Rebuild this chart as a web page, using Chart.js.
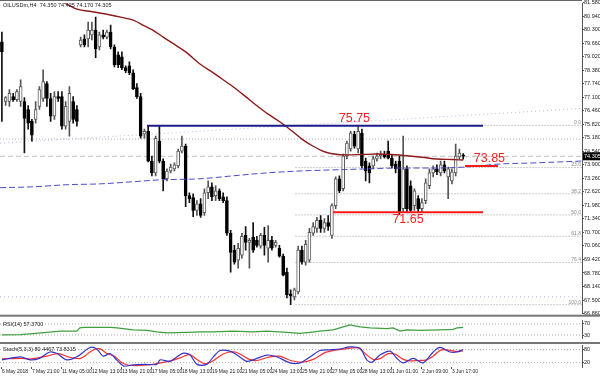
<!DOCTYPE html>
<html><head><meta charset="utf-8">
<script src="https://cdn.jsdelivr.net/npm/chart.js@4.4.1/dist/chart.umd.min.js"></script>
<style>
html,body{margin:0;padding:0;background:#fff;}
#wrap{position:relative;width:600px;height:376px;overflow:hidden;background:#fff;}
canvas{position:absolute;left:0;}
</style></head><body>
<div id="wrap">
<canvas id="cMain" width="600" height="317" style="top:0;width:600px;height:317px"></canvas>
<canvas id="cRsi" width="600" height="25" style="top:317px;width:600px;height:25px"></canvas>
<canvas id="cSto" width="600" height="34" style="top:342px;width:600px;height:34px"></canvas>
</div>
<script>
// ---------------- data ----------------
const symbolTitle = "OILUSDm,H4  74.350 74.425 74.170 74.305";
const opens  = [79.72,76.90,76.90,77.13,76.99,76.90,76.90,76.52,75.96,76.05,76.67,77.04,77.75,77.04,76.20,77.13,77.13,75.73,75.96,76.90,76.52,79.58,79.86,79.86,80.05,80.28,79.48,80.05,79.95,80.19,79.48,79.11,79.01,78.50,78.59,78.26,77.56,77.13,75.35,75.49,74.08,73.52,75.02,74.08,73.24,73.61,73.71,73.85,74.55,74.79,72.44,72.35,71.74,72.06,71.64,72.58,72.86,72.44,72.67,72.39,72.21,70.66,69.86,69.39,69.62,70.56,70.23,70.47,70.33,70.05,70.56,69.95,70.33,70.09,69.95,69.58,68.82,67.79,67.65,67.89,69.86,69.29,69.39,70.66,70.89,71.27,70.89,71.17,70.56,71.97,73.24,72.77,74.32,74.65,75.35,74.65,75.40,74.08,73.85,73.85,74.18,74.32,74.37,74.55,74.22,73.94,74.08,71.83,73.71,72.91,71.97,72.30,71.83,72.21,72.91,73.52,73.71,73.52,73.90,73.33,73.14,73.52,74.27,74.35];
const highs  = [80.19,77.13,77.46,77.28,77.46,77.93,77.09,76.71,76.05,76.90,77.60,78.40,77.84,77.28,77.37,77.37,77.37,76.90,77.60,77.13,76.71,79.95,80.05,80.66,80.66,80.89,80.19,80.28,80.28,80.52,79.58,79.25,79.25,78.59,78.78,78.40,77.75,77.28,75.59,75.73,74.32,75.26,75.73,74.18,73.71,73.94,73.99,74.65,75.26,74.88,72.58,72.53,72.21,72.30,72.77,73.14,73.05,72.91,72.77,72.58,72.39,70.80,70.09,70.19,70.66,70.98,70.42,71.17,70.52,70.66,70.94,71.03,70.52,70.33,70.09,69.67,69.01,67.98,68.07,70.05,70.05,70.33,70.89,71.17,71.41,71.50,71.36,71.50,72.06,73.33,73.38,74.41,75.02,75.49,75.49,75.77,75.59,74.22,73.99,74.32,74.46,74.55,74.55,75.02,74.37,74.08,74.32,75.26,73.85,73.14,72.77,72.44,72.30,73.24,73.71,73.85,73.90,74.08,74.08,73.80,73.71,74.88,74.65,74.43];
const lows   = [75.96,76.71,76.67,76.90,76.90,76.67,74.46,75.59,75.02,75.87,76.52,76.90,76.67,75.96,76.05,76.90,75.59,75.59,75.26,75.87,75.73,79.48,79.48,79.48,79.81,78.97,79.34,79.86,79.86,79.39,78.54,78.50,78.40,78.26,78.17,77.46,77.04,75.16,75.16,74.04,73.38,73.38,73.99,72.67,73.14,73.52,73.61,73.75,74.46,71.92,72.11,71.45,71.50,71.41,71.50,72.30,72.21,72.21,72.21,72.11,70.56,68.82,69.20,69.01,69.48,69.86,69.01,69.76,70.00,69.95,69.62,69.29,69.86,70.00,69.53,68.64,67.60,67.28,67.51,67.79,69.20,69.15,69.29,70.56,70.70,70.70,70.70,70.80,70.42,71.83,72.58,72.67,74.18,74.55,74.69,74.46,73.75,73.14,73.05,73.71,74.08,74.18,74.22,74.18,73.75,73.52,71.55,71.64,71.64,71.64,71.74,71.64,71.64,72.06,72.77,73.33,73.43,73.38,73.52,72.30,73.00,73.38,74.18,74.17];
const closes = [79.25,77.09,77.28,76.99,77.37,77.60,76.10,75.87,75.30,76.52,77.46,77.84,77.04,76.20,77.13,77.04,75.73,76.67,77.28,76.05,75.96,79.81,79.58,80.28,80.28,79.39,80.05,79.95,80.19,79.48,78.64,78.64,78.50,78.36,78.26,77.51,77.13,75.26,75.49,74.08,73.52,75.16,74.08,73.24,73.61,73.80,73.90,74.55,74.79,72.44,72.30,71.74,72.06,71.50,72.58,72.86,72.39,72.67,72.30,72.21,70.66,69.76,69.29,69.95,70.52,70.23,70.33,69.86,70.09,70.56,70.09,70.33,69.95,70.23,69.58,68.68,67.75,67.70,67.98,69.86,69.29,70.14,70.70,70.98,71.27,70.89,71.17,70.98,71.97,73.24,72.67,74.32,74.93,75.40,74.79,75.49,73.85,73.61,73.52,74.18,74.32,74.41,74.27,74.22,73.85,73.71,71.64,73.71,71.83,71.74,72.67,71.83,72.11,73.05,73.52,73.71,73.57,73.90,73.61,73.71,73.57,74.32,74.46,74.31];

// moving average (dark red) read at sample bars
const maIdx = [14,18,20,24,28,32,35,38,40,43,46,49,53,56,59,62,65,68,71,74,77,80,83,86,89,92,96,100,104,108,112,116,120,123];
const maVal = [81.80,81.45,81.27,81.15,81.03,80.88,80.75,80.48,80.30,79.95,79.60,79.25,78.65,78.30,77.93,77.55,77.13,76.70,76.30,75.95,75.55,75.12,74.78,74.52,74.40,74.37,74.39,74.41,74.39,74.33,74.26,74.18,74.15,74.13];
// long dashed blue average
const trendIdx = [-0.5,8.3,17.4,26.2,35,42.2,52.8,61.6,70.7,79.5,88.3,97.4,106,115,124,132.8,141.6,154.7];
const trendVal = [72.82,72.86,72.96,73.00,73.10,73.19,73.24,73.38,73.52,73.61,73.66,73.71,73.75,73.75,73.80,73.94,73.99,74.08];
// marked levels
const markLevels = [75.75, 71.65, 73.85];
const markText   = ["75.75", "71.65", "73.85"];
const markFrom   = [38.7, 88.3, 123.5];
const markTo     = [128.3, 128.3, 132.3];
// fibonacci retracement
const fibLevels = [75.77, 73.77, 72.53, 71.53, 70.52, 69.28, 67.28];
const fibLabels = ["0.0", "23.6", "38.2", "50.0", "61.8", "76.4", "100.0"];
const fibFrom = 78.3;
const bidPrice = 74.305;
const grayLevel = 75.12;
const lavUpper = [74.93, 76.57];
const lavLower = 67.65;
// price axis labels
const priceTicks = [81.58,80.94,80.30,79.66,79.02,78.38,77.74,77.10,76.46,75.82,75.18,74.54,73.90,73.26,72.62,71.98,71.34,70.70,70.06,69.42,68.78,68.14,67.50,66.86];
// RSI(14)
const rsiIdx = [0,5,8.3,12,15.5,20,20.8,22,26,29,30.7,35,38.7,41.3,44,49.3,53,56.4,61.6,67,70.7,76,79.5,82.2,84.8,88.3,92.8,95.5,98.2,102.7,104.3,106.2,108,111.5,116.8,120.3,121.4,123];
const rsiVal = [30.9,31.5,35.3,39.8,44.2,44.2,55.8,57.6,57.6,57.6,55.8,48.7,46.9,41.5,38.0,39.8,41.5,41.5,44.2,41.5,44.2,39.8,36.0,39.8,44.2,48.7,66.4,59.3,55.8,53.1,55.8,44.2,48.7,46.9,48.7,50.4,55.8,57.37];
const rsiLevels = [70, 30];
// Stochastic(5,3,3)
const stIdx  = [0,5,7.5,10,12.8,14.7,17.3,20,23.5,25.3,27,28.8,30.6,32.5,35,38,41.3,42.2,44.8,46.7,48.4,50.2,52,54.6,56.4,58.2,60.8,62.7,65.3,67,70.7,73.3,76.8,79.5,82.2,84.8,87.5,90.2,92.8,95.5,97.3,98.7,100.8,103.5,105.3,107,109.7,112.3,115,116.8,119.5,121.4,123];
const stMain = [33,47,33,40,69,62,33,47,90,83,50,62,33,4,10,12,12,33,26,47,64,55,12,12,47,76,73,55,26,33,55,47,19,19,47,76,79,83,93,86,33,22,55,73,40,19,40,19,69,90,69,69,80.45];
const sgIdx  = [0,5,8,12,15,18,21,24,26,28,30,32,34,38,42,45,48,50,52,54,56,59,62,64,66,68,71,74,77,80,83,86,89,92,95,97,99,101,103,105,107,109,111,113,115,117,119,121,123];
const stSig  = [38,40,38,50,62,45,40,75,85,62,50,20,8,8,18,28,45,58,35,15,25,60,70,55,35,30,45,50,30,22,35,65,78,85,88,60,35,40,62,58,35,28,30,32,50,78,78,72,73.83];
const stLevels = [80, 20];
// time axis
const xTickIdx = [0,8,16,24,32,40,48,56,64,72,80,88,96,104,112,120];
const xTickLabels = ["6 May 2018","7 May 21:00","11 May 05:00","12 May 13:00","13 May 21:00","17 May 05:00","18 May 13:00","19 May 21:00","21 May 05:00","24 May 13:00","25 May 21:00","27 May 05:00","28 May 13:00","1 Jun 01:00","2 Jun 09:00","3 Jun 17:00"];

// ---------------- chart ----------------
const XMIN = -0.507, XMAX = 154.69;
const FONT = "'Liberation Sans', Arial, sans-serif";
Chart.defaults.font.family = FONT;
Chart.defaults.animation = false;

const pts = (ix, vals) => ix.map((x, i) => ({x: x, y: vals[i]}));
const hline = (a, b, v) => [{x: a, y: v}, {x: b, y: v}];
const bull = i => closes[i] >= opens[i];

function xAxis(show) {
  return {
    type: 'linear', min: XMIN, max: XMAX, offset: false, display: show,
    grid: {display: show, drawOnChartArea: false, drawTicks: true, tickLength: 2, color: '#555'},
    border: {display: false},
    afterBuildTicks: s => { s.ticks = xTickIdx.map(v => ({value: v})); },
    afterFit: s => { s.height = show ? 9 : 0; },
    ticks: {autoSkip: false, maxRotation: 0, minRotation: 0, align: 'start', padding: 0,
      font: {size: 5}, color: '#222',
      callback: (v, i) => xTickLabels[i]}
  };
}
function yAxis(min, max, ticks, fmt) {
  return {
    type: 'linear', position: 'right', min: min, max: max,
    grid: {display: true, drawOnChartArea: false, drawTicks: true, tickLength: 2, color: '#555'},
    border: {display: true, color: '#555'},
    afterBuildTicks: s => { s.ticks = ticks.map(v => ({value: v})); },
    afterFit: s => { s.width = 18; },
    ticks: {autoSkip: false, padding: 0, font: {size: 5.5}, color: '#222', callback: fmt}
  };
}
const lineDs = (data, color, width, dash, order, extra) => Object.assign({
  type: 'line', data: data, borderColor: color, borderWidth: width, borderDash: dash || [],
  pointRadius: 0, fill: false, tension: 0, order: order
}, extra || {});

const candleBodies = opens.map((o, i) => ({x: i, y: [o, closes[i]]}));
const candleWicks = opens.map((o, i) => ({x: i, y: [lows[i], highs[i]]}));

const mainDatasets = [
  lineDs(hline(XMIN, XMAX, grayLevel), '#b4b4b4', 1, [1, 2], 9),
  lineDs([{x: XMIN, y: lavUpper[0]}, {x: XMAX, y: lavUpper[1]}], '#b8b8ee', 1, [1, 3], 9),
  lineDs(hline(XMIN, XMAX, lavLower), '#b8b8ee', 1, [1, 3], 9),
  lineDs(hline(XMIN, XMAX, bidPrice), '#c0c0c0', 1, [5, 3], 9),
  ...fibLevels.map(v => lineDs(hline(fibFrom, XMAX, v), '#9a9a9a', 1, [1, 2], 9)),
  {type: 'bar', data: candleWicks, barThickness: 1, grouped: false, order: 4,
   backgroundColor: opens.map((o, i) => bull(i) ? '#555' : '#111'), borderWidth: 0},
  {type: 'bar', data: candleBodies, barThickness: 3, grouped: false, order: 3, minBarLength: 1,
   backgroundColor: opens.map((o, i) => bull(i) ? '#ffffff' : '#000000'),
   borderColor: opens.map((o, i) => bull(i) ? '#5a5a5a' : '#000000'), borderWidth: 1, borderSkipped: false},
  lineDs(pts(trendIdx, trendVal), '#4b4bd0', 1, [6, 3], 2, {tension: 0.3, cubicInterpolationMode: 'monotone'}),
  lineDs(pts(maIdx, maVal), '#8e1a1a', 1.4, [], 1, {cubicInterpolationMode: 'monotone'}),
  lineDs(hline(markFrom[0], markTo[0], markLevels[0]), '#1c1c8a', 2, [], 0),
  lineDs(hline(markFrom[1], markTo[1], markLevels[1]), '#ff1a1a', 2, [], 0),
  lineDs(hline(markFrom[2], markTo[2], markLevels[2]), '#ff1a1a', 2, [], 0)
];

const overlayMain = {
  id: 'overlayMain',
  afterDraw(chart) {
    const {ctx, chartArea: a, scales: {x, y}} = chart;
    ctx.save();
    ctx.strokeStyle = '#666'; ctx.lineWidth = 1;
    ctx.beginPath(); ctx.moveTo(0, 0.5); ctx.lineTo(a.right, 0.5); ctx.stroke();
    ctx.fillStyle = '#777'; ctx.fillRect(0, a.bottom + 1, 600, 2);
    ctx.fillStyle = '#222'; ctx.font = '5.5px ' + FONT; ctx.textBaseline = 'middle'; ctx.textAlign = 'left';
    ctx.fillText(symbolTitle, 3, 5);
    ctx.fillStyle = '#888'; ctx.textAlign = 'right'; ctx.textBaseline = 'bottom'; ctx.font = '5px ' + FONT;
    fibLevels.forEach((v, i) => ctx.fillText(fibLabels[i], a.right - 1, y.getPixelForValue(v)));
    ctx.fillStyle = '#ff2020'; ctx.font = '12.5px ' + FONT; ctx.textBaseline = 'middle';
    ctx.textAlign = 'center';
    ctx.fillText(markText[0], x.getPixelForValue(94), y.getPixelForValue(markLevels[0]) - 7);
    ctx.fillText(markText[1], x.getPixelForValue(108.3), y.getPixelForValue(markLevels[1]) + 7.5);
    ctx.fillText(markText[2], x.getPixelForValue(130), y.getPixelForValue(markLevels[2]) - 7.5);
    const py = y.getPixelForValue(bidPrice);
    ctx.fillStyle = '#000'; ctx.fillRect(a.right + 1, py - 4, 18, 8);
    ctx.fillStyle = '#fff'; ctx.font = '5.5px ' + FONT; ctx.textAlign = 'left';
    ctx.fillText(bidPrice.toFixed(3), a.right + 2, py + 0.5);
    ctx.restore();
  }
};

new Chart(document.getElementById('cMain'), {
  data: {datasets: mainDatasets},
  options: {
    responsive: false, devicePixelRatio: 1,
    layout: {padding: {top: 1, bottom: 3, left: 0, right: 0}},
    plugins: {legend: {display: false}, tooltip: {enabled: false}},
    scales: {x: xAxis(false), y: yAxis(66.853, 81.548, priceTicks, v => v.toFixed(3))}
  },
  plugins: [overlayMain]
});

const panelOverlay = (label, sepTop) => ({
  id: 'panel' + label.length,
  afterDraw(chart) {
    const {ctx, chartArea: a} = chart;
    ctx.save();
    if (sepTop) { ctx.fillStyle = '#777'; ctx.fillRect(0, 0, 600, 2); }
    ctx.fillStyle = '#222'; ctx.font = '5.5px ' + FONT; ctx.textAlign = 'left'; ctx.textBaseline = 'middle';
    ctx.fillText(label, 3, a.top + 4);
    ctx.restore();
  }
});

new Chart(document.getElementById('cRsi'), {
  data: {datasets: [
    ...rsiLevels.map(v => lineDs(hline(XMIN, XMAX, v), '#a8a8a8', 1, [1, 2], 5)),
    lineDs(pts(rsiIdx, rsiVal), '#3f9f3f', 1.2, [], 1)
  ]},
  options: {
    responsive: false, devicePixelRatio: 1,
    layout: {padding: {top: 0, bottom: 0, left: 0, right: 0}},
    plugins: {legend: {display: false}, tooltip: {enabled: false}},
    scales: {x: xAxis(false), y: yAxis(16.7, 83.3, rsiLevels, v => String(v))}
  },
  plugins: [panelOverlay('RSI(14) 57.3700', false)]
});

new Chart(document.getElementById('cSto'), {
  data: {datasets: [
    ...stLevels.map(v => lineDs(hline(XMIN, XMAX, v), '#a8a8a8', 1, [1, 2], 5)),
    lineDs(pts(sgIdx, stSig), '#ff3030', 1.2, [], 2, {tension: 0.3}),
    lineDs(pts(stIdx, stMain), '#3434c8', 1.2, [], 1, {tension: 0.3})
  ]},
  options: {
    responsive: false, devicePixelRatio: 1,
    layout: {padding: {top: 2, bottom: 0, left: 0, right: 0}},
    plugins: {legend: {display: false}, tooltip: {enabled: false}},
    scales: {x: xAxis(true), y: yAxis(0, 100, stLevels, v => String(v))}
  },
  plugins: [panelOverlay('Stoch(5,3,3) 80.4467 73.8315', true)]
});
</script>
</body></html>
